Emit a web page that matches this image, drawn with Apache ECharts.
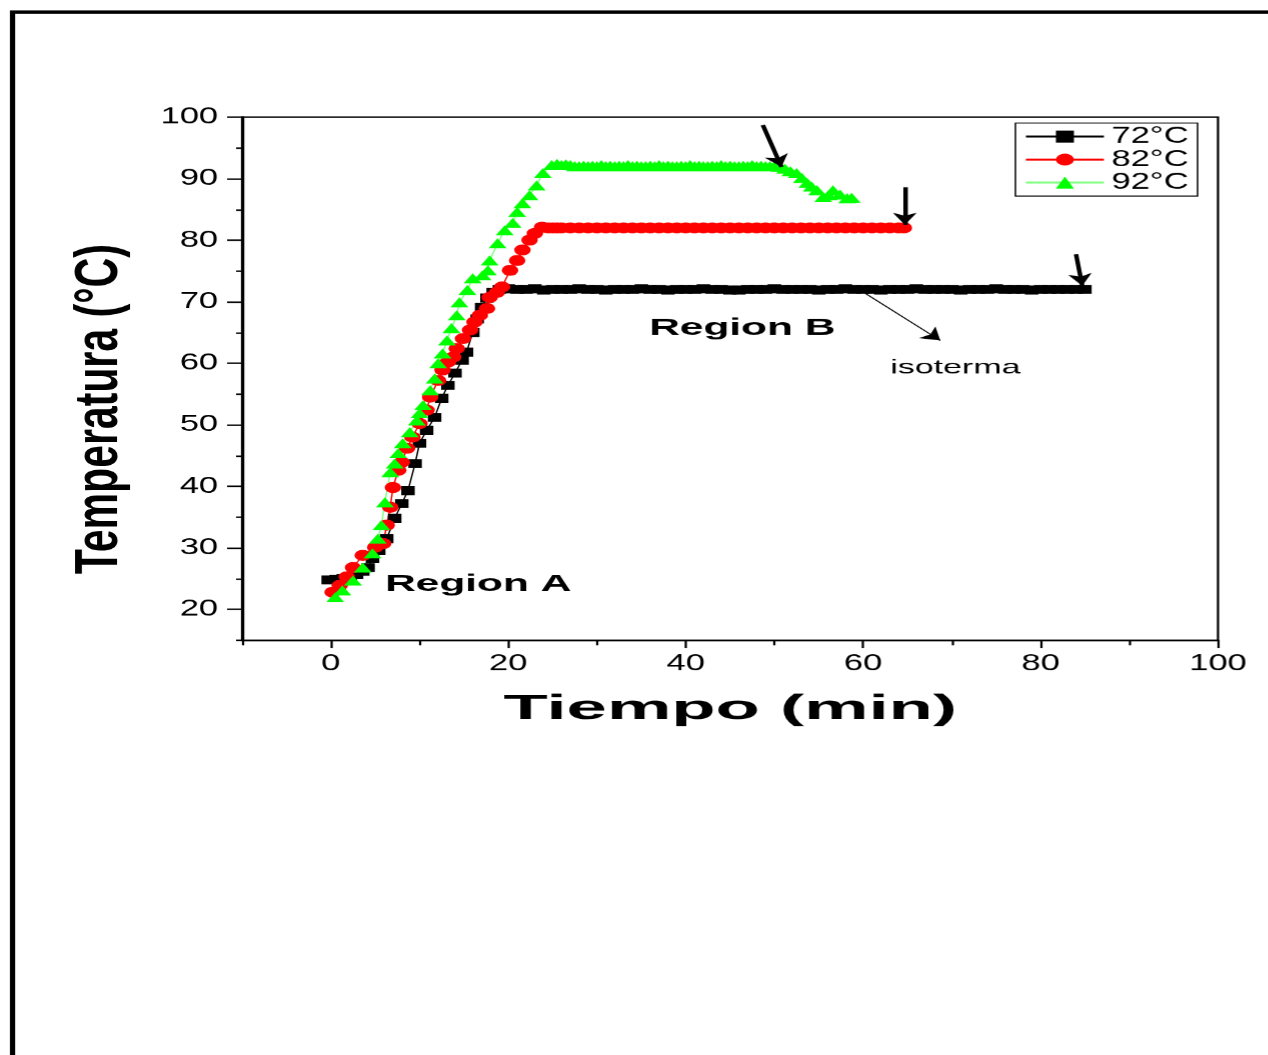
<!DOCTYPE html>
<html>
<head>
<meta charset="utf-8">
<script src="https://cdn.jsdelivr.net/npm/echarts@6/dist/echarts.min.js"></script>
<style>
  html, body { margin: 0; padding: 0; overflow: hidden; background: #fff; }
  /* the original figure is stretched sideways, so draw narrow and stretch */
  #main { width: 845.33px; height: 1055px; transform: scaleX(1.5); transform-origin: 0 0; }
</style>
</head>
<body>
<div id="main"></div>
<script>
var S = 1.5; // horizontal stretch of the page

// 72°C (squares)
var t72 = [-0.3, 0.6, 1.4, 2.2, 2.9, 3.6, 4.2, 4.7, 5.4, 6.3, 7.2, 8.0, 8.7, 9.5, 10.0, 10.8, 11.7, 12.5, 13.2, 14.0,
    14.8, 15.3, 16.0, 16.5, 17.0, 17.6, 18.3, 19, 20, 21, 22, 23, 24, 25, 26, 27, 28, 29, 30, 31, 32, 33, 34, 35,
    36, 37, 38, 39, 40, 41, 42, 43, 44, 45, 46, 47, 48, 49, 50, 51, 52, 53, 54, 55, 56, 57, 58, 59, 60, 61, 62, 63,
    64, 65, 66, 67, 68, 69, 70, 71, 72, 73, 74, 75, 76, 77, 78, 79, 80, 81, 82, 83, 84, 85];
var T72 = [24.8, 24.9, 25.0, 25.3, 25.7, 26.2, 26.8, 28.3, 29.6, 31.5, 34.8, 37.2, 39.3, 43.7, 47.0, 49.1, 51.2, 54.3, 56.4, 58.4,
    60.5, 61.8, 65.0, 67.2, 69.1, 70.6, 71.5, 72.0, 72.1, 72.0, 72.0, 72.1, 71.9, 72.0, 72.0, 72.0, 72.1, 72.0, 72.0, 71.9, 72.0, 72.0,
    72.0, 72.1, 72.0, 72.0, 71.9, 72.0, 72.0, 72.0, 72.1, 72.0, 72.0, 71.9, 71.9, 72.0, 72.0, 72.0, 72.1, 72.0, 72.0, 72.0, 72.0, 71.9,
    72.0, 72.0, 72.1, 72.0, 72.0, 72.0, 71.9, 72.0, 72.0, 72.0, 72.1, 72.0, 72.0, 72.0, 72.0, 71.9, 72.0, 72.0, 72.0, 72.1, 72.0, 72.0,
    72.0, 71.9, 72.0, 72.0, 72.0, 72.0, 72.0, 72.0];

// 82°C (circles)
var t82 = [0.2, 1.0, 1.8, 2.5, 3.6, 5.0, 5.9, 6.3, 6.7, 7.0, 7.6, 8.0, 8.6, 9.2, 10.0, 10.8, 11.2, 12.1, 12.6, 13.2,
    13.8, 14.2, 14.9, 15.7, 16.2, 16.8, 17.6, 17.9, 18.7, 19.3, 20.2, 21.0, 21.6, 22.4, 23.0, 23.8, 24.5, 25, 25.5, 26,
    27, 28, 29, 30, 31, 32, 33, 34, 35, 36, 37, 38, 39, 40, 41, 42, 43, 44, 45, 46, 47, 48, 49, 50, 51, 52, 53, 54,
    55, 56, 57, 58, 59, 60, 61, 62, 63, 64, 64.6];
var T82 = [22.8, 23.9, 25.3, 26.8, 28.8, 30.1, 30.7, 33.7, 36.6, 39.8, 42.6, 43.9, 46.2, 48.0, 50.2, 52.4, 54.5, 57.2, 58.9, 60.2,
    61.0, 62.4, 64.0, 65.4, 66.7, 67.8, 68.9, 70.7, 71.5, 72.4, 75.1, 76.7, 78.4, 80.0, 81.1, 82.1, 82.0, 82.0, 82.0, 82.0,
    82.0, 82.0, 82.0, 82.0, 82.0, 82.0, 82.0, 82.0, 82.0, 82.0, 82.0, 82.0, 82.0, 82.0, 82.0, 82.0, 82.0, 82.0, 82.0, 82.0,
    82.0, 82.0, 82.0, 82.0, 82.0, 82.0, 82.0, 82.0, 82.0, 82.0, 82.0, 82.0, 82.0, 82.0, 82.0, 82.0, 82.0, 82.0, 82.0];

// 92°C (triangles)
var t92 = [0.5, 1.3, 2.5, 3.6, 4.7, 5.3, 5.7, 6.1, 6.7, 7.2, 7.6, 8.1, 8.9, 9.7, 10.0, 10.4, 11.2, 11.7, 12.1, 12.6,
    13.1, 13.6, 14.2, 14.5, 15.4, 16.0, 17.1, 17.7, 17.9, 18.8, 19.6, 20.5, 21.0, 21.6, 22.4, 23.2, 23.9, 24.9, 25.5, 26,
    26.5, 27, 27.5, 28, 28.5, 29, 29.5, 30, 30.5, 31, 31.5, 32, 32.5, 33, 33.5, 34, 34.5, 35, 35.5, 36, 36.5, 37,
    37.5, 38, 38.5, 39, 39.5, 40, 40.5, 41, 41.5, 42, 42.5, 43, 43.5, 44, 44.5, 45, 45.5, 46, 46.5, 47, 47.5, 48,
    48.5, 49, 49.5, 50, 50.6, 51.2, 51.8, 52.5, 53.1, 53.7, 54.2, 54.8, 55.5, 56.1, 56.6, 57.4, 58.2, 58.7];
var T92 = [22.0, 23.1, 24.7, 26.8, 29.1, 31.5, 33.7, 37.4, 42.3, 43.7, 45.4, 47.0, 48.8, 50.7, 51.9, 53.2, 55.6, 57.5, 60.0, 61.6,
    63.7, 65.7, 67.8, 69.9, 71.9, 73.8, 74.3, 75.1, 76.7, 79.5, 81.6, 82.8, 84.6, 86.0, 87.3, 88.9, 90.9, 92.2, 92.4, 92.2,
    92.3, 92.2, 92.0, 92.0, 92.1, 92.0, 92.1, 92.0, 92.2, 92.0, 92.1, 92.0, 92.1, 92.0, 92.2, 92.0, 92.1, 92.0, 92.0, 92.1,
    92.0, 92.2, 92.0, 92.1, 92.0, 92.0, 92.1, 92.0, 92.2, 92.0, 92.1, 92.0, 92.0, 92.1, 92.0, 92.2, 92.0, 92.1, 92.0, 92.0,
    92.1, 92.0, 92.2, 92.0, 92.1, 92.0, 92.0, 92.0, 91.9, 91.6, 91.2, 90.9, 90.1, 89.3, 88.7, 88.1, 87.0, 87.3, 88.1, 87.4,
    86.8, 86.9];

// arrows: [from, to, width] in data units
var arrows = [
    [[48.7, 98.7], [50.8, 91.9], 3],
    [[64.7, 88.6], [64.7, 82.5], 3],
    [[84.0, 77.7], [84.7, 72.6], 3],
    [[60.2, 71.4], [68.7, 63.7], 1]
];

var xLabels = [0, 20, 40, 60, 80, 100];
var xMinor = [-10, 10, 30, 50, 70, 90];
var yLabels = [20, 30, 40, 50, 60, 70, 80, 90, 100];
var yMinor = [15, 25, 35, 45, 55, 65, 75, 85, 95];

function pairs(xs, ys) {
    var out = [];
    for (var i = 0; i < xs.length; i++) out.push([xs[i], ys[i]]);
    return out;
}

var font = 'Arial, "Liberation Sans", sans-serif';
var W = 1268 / S;

var axisBase = {
    type: 'value',
    axisLine: { show: true, onZero: false, lineStyle: { color: '#000', width: 1.5 } },
    splitLine: { show: false }
};

var myChart = echarts.init(document.getElementById('main'), null, { devicePixelRatio: 1.5 });

var option = {
    animation: false,
    backgroundColor: '#fff',
    grid: {
        left: 242 / S, right: W - 1218 / S, top: 117, bottom: 1055 - 640,
        show: true, borderColor: '#000', borderWidth: 1.5, backgroundColor: 'transparent'
    },
    legend: {
        orient: 'vertical',
        left: 1015 / S, top: 123,
        padding: [2, 6, 2, 6],
        itemGap: 0,
        itemWidth: 52, itemHeight: 15,
        borderColor: '#000', borderWidth: 1,
        textStyle: { fontFamily: font, fontSize: 23, color: '#000', lineHeight: 23 },
        data: ['72°C', '82°C', '92°C']
    },
    xAxis: [
        Object.assign({}, axisBase, {
            min: -10, max: 100,
            axisTick: { show: true, length: 8, customValues: xLabels, lineStyle: { color: '#000', width: 1.5 } },
            axisLabel: { customValues: xLabels, margin: 12, fontFamily: font, fontSize: 23, color: '#000' }
        }),
        Object.assign({}, axisBase, {
            min: -10, max: 100, position: 'bottom',
            axisTick: { show: true, length: 5, customValues: xMinor, lineStyle: { color: '#000', width: 1.5 } },
            axisLabel: { show: false }
        })
    ],
    yAxis: [
        Object.assign({}, axisBase, {
            min: 15, max: 100,
            axisTick: { show: true, length: 10, customValues: yLabels, lineStyle: { color: '#000', width: 1.5 } },
            axisLabel: { customValues: yLabels, margin: 16, fontFamily: font, fontSize: 23, color: '#000' }
        }),
        Object.assign({}, axisBase, {
            min: 15, max: 100, position: 'left',
            axisTick: { show: true, length: 4, customValues: yMinor, lineStyle: { color: '#000', width: 1.5 } },
            axisLabel: { show: false }
        })
    ],
    series: [
        {
            name: '72°C', type: 'line', data: pairs(t72, T72),
            symbol: 'rect', symbolSize: [9, 9],
            itemStyle: { color: '#000' },
            lineStyle: { color: '#000', width: 1 },
            markLine: {
                silent: true, animation: false,
                symbol: ['none', 'arrow'], symbolSize: 12,
                label: { show: false },
                data: arrows.map(function (a) {
                    return [
                        { coord: a[0], lineStyle: { color: '#000', width: a[2], type: 'solid' }, symbolSize: a[2] > 1 ? 12 : 10 },
                        { coord: a[1] }
                    ];
                })
            }
        },
        {
            name: '82°C', type: 'line', data: pairs(t82, T82),
            symbol: 'circle', symbolSize: 11,
            itemStyle: { color: '#ff0000' },
            lineStyle: { color: '#ff0000', width: 1 }
        },
        {
            name: '92°C', type: 'line', data: pairs(t92, T92),
            symbol: 'triangle', symbolSize: [12, 10],
            itemStyle: { color: '#00ff00' },
            lineStyle: { color: '#80ff80', width: 1 }
        }
    ],
    graphic: [
        {
            type: 'rect', silent: true,
            shape: { x: 12.5 / S, y: 12, width: 2000, height: 2000 },
            style: { fill: 'none', stroke: '#000', lineWidth: 3.5 }
        },
        {
            type: 'text', x: 67, y: 409, rotation: Math.PI / 2,
            style: { text: 'Temperatura (°C)', fontFamily: font, fontWeight: 'bold', fontSize: 41, fill: '#000', align: 'center', verticalAlign: 'middle' }
        },
        {
            type: 'text', x: 730 / S, y: 709, scaleX: 1.38,
            style: { text: 'Tiempo (min)', fontFamily: font, fontWeight: 'bold', fontSize: 35, fill: '#000', align: 'center', verticalAlign: 'middle' }
        },
        {
            type: 'text', x: 742 / S, y: 328, scaleX: 1.23,
            style: { text: 'Region B', fontFamily: font, fontWeight: 'bold', fontSize: 23, fill: '#000', align: 'center', verticalAlign: 'middle' }
        },
        {
            type: 'text', x: 478 / S, y: 584, scaleX: 1.23,
            style: { text: 'Region A', fontFamily: font, fontWeight: 'bold', fontSize: 23, fill: '#000', align: 'center', verticalAlign: 'middle' }
        },
        {
            type: 'text', x: 955 / S, y: 368, scaleX: 1.13,
            style: { text: 'isoterma', fontFamily: font, fontSize: 20, fill: '#000', align: 'center', verticalAlign: 'middle' }
        }
    ]
};

myChart.setOption(option);
</script>
</body>
</html>
